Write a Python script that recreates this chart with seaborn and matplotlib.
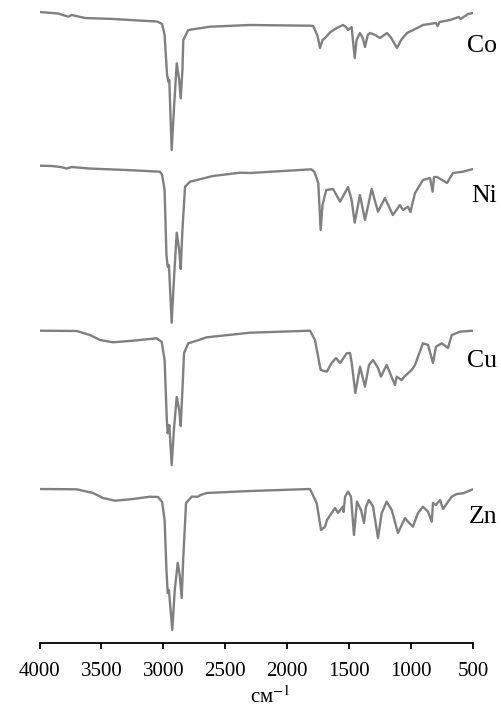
import matplotlib
matplotlib.use("Agg")
import matplotlib.pyplot as plt
import seaborn as sns
import pandas as pd

# IR spectra of the four metal complexes (wavenumber, cm^-1 / relative transmittance, a.u.)
co_wn = [4000, 3850, 3767, 3740, 3633, 3400, 3200, 3050, 3010, 2990, 2970, 2960, 2952, 2933,
         2915, 2892, 2872, 2860, 2846, 2839, 2799, 2623, 2300, 1816, 1790, 1755, 1735, 1715,
         1695, 1650, 1600, 1550, 1525, 1509, 1480, 1455, 1440, 1413, 1390, 1372, 1350, 1332,
         1290, 1251, 1194, 1160, 1114, 1080, 1033, 950, 904, 800, 785, 770, 686, 615, 600,
         540, 500]
co_t = [148, 146.5, 143.3, 145, 142, 141, 139.5, 138.5, 136, 125, 85, 78.3, 80, 10,
        50, 96.7, 80, 61.7, 90, 120, 130, 133.3, 135, 134.3, 134, 124, 112, 120,
        122, 128, 132, 135, 133, 130, 133, 102, 120, 127, 122, 113, 125, 127,
        125, 122, 127, 122, 112, 120, 127, 132, 135, 137, 134, 138, 140, 143, 141,
        146, 147]

ni_wn = [4000, 3900, 3830, 3780, 3740, 3600, 3300, 3027, 3010, 2990, 2975, 2965, 2955, 2933,
         2915, 2892, 2872, 2860, 2846, 2825, 2785, 2600, 2381, 2300, 1805, 1780, 1749, 1730,
         1715, 1685, 1630, 1573, 1509, 1480, 1455, 1413, 1372, 1318, 1267, 1211, 1147, 1090,
         1065, 1025, 1005, 990, 968, 904, 847, 826, 815, 790, 710, 662, 581, 500]
ni_t = [154.3, 154, 153, 151.5, 153, 151.5, 150, 148.3, 145, 130, 65, 53.3, 55, -2.7,
        40, 87.3, 70, 51, 90, 133.3, 138.3, 144, 147.3, 147, 150.7, 148, 136.7, 90,
        115, 130, 131, 118.3, 133, 120, 97.3, 125, 100, 131, 108.3, 122, 105, 115,
        110, 113.3, 108, 116, 127, 140, 142, 128.3, 143, 143, 137, 147, 148.3, 151]

cu_wn = [4000, 3700, 3592, 3512, 3407, 3245, 3054, 3013, 2990, 2972, 2965, 2952, 2933, 2915,
         2892, 2872, 2860, 2846, 2833, 2799, 2731, 2650, 2300, 1816, 1776, 1730, 1681, 1641,
         1606, 1573, 1520, 1493, 1479, 1450, 1412, 1372, 1340, 1307, 1267, 1243, 1225, 1197,
         1170, 1130, 1116, 1076, 1050, 995, 968, 944, 904, 863, 823, 799, 753, 702, 672,
         605, 500]
cu_t = [149.3, 149, 145, 140, 137.7, 139.3, 141.7, 138, 120, 60, 46.7, 55, 15, 50,
        83, 70, 54, 90, 127, 136.7, 139.3, 142.7, 147.3, 149.3, 140, 110, 108.3, 117,
        122, 117, 126.7, 127, 117, 87, 113.3, 93.3, 115, 120, 112, 103.3, 108, 115,
        107, 95, 103.3, 100, 104, 110, 115, 123.3, 136.7, 135, 117, 133.3, 136.7, 132, 145,
        148.3, 149.3]

zn_wn = [4000, 3700, 3568, 3487, 3390, 3245, 3108, 3043, 3010, 2990, 2975, 2965, 2955, 2928,
         2908, 2884, 2868, 2852, 2840, 2817, 2771, 2720, 2700, 2650, 2300, 1816, 1762, 1727,
         1695, 1679, 1641, 1614, 1590, 1552, 1545, 1533, 1509, 1485, 1461, 1437, 1404, 1380,
         1364, 1340, 1307, 1267, 1237, 1197, 1156, 1106, 1049, 1030, 985, 944, 904, 863,
         833, 823, 800, 766, 742, 720, 672, 632, 581, 500]
zn_t = [151, 150.7, 147, 142, 139.3, 141, 143.3, 143, 138, 120, 70, 47, 50, 10,
        50, 77, 65, 42, 80, 137, 143.3, 143.3, 145, 147, 149, 151, 137, 110,
        113.3, 120, 127, 132, 127, 133.3, 128, 143.3, 148.3, 143.3, 105, 138.3, 130, 117,
        133.3, 140, 133.3, 102, 127, 138.3, 130, 107, 122, 119, 113.3, 127, 133.3, 128.3,
        118.3, 137, 135, 140, 131, 135, 143.3, 146, 146.7, 150.7]

samples = ["Co", "Ni", "Cu", "Zn"]
stack_offsets = [0, -160, -320, -480]
tick_values = [4000, 3500, 3000, 2500, 2000, 1500, 1000, 500]

spectra = [(co_wn, co_t), (ni_wn, ni_t), (cu_wn, cu_t), (zn_wn, zn_t)]
frames = []
for name, (wn, t), off in zip(samples, spectra, stack_offsets):
    frames.append(pd.DataFrame({"wn": wn, "y": [v + off for v in t], "sample": name}))
df = pd.concat(frames, ignore_index=True)

sns.set_theme(style="ticks")
plt.rcParams["font.family"] = ["Liberation Serif", "DejaVu Serif"]
plt.rcParams["mathtext.fontset"] = "stix"

fig = plt.figure(figsize=(5.01, 7.10), dpi=100)
ax = fig.add_axes([39.5 / 501, 67 / 710, 433.5 / 501, 643 / 710])

sns.lineplot(data=df, x="wn", y="y", hue="sample", units="sample", estimator=None,
             palette=["#808080"] * 4, linewidth=1.7, legend=False, ax=ax)

ax.set_xlim(4000, 500)
ax.set_ylim(-483, 160)
ax.set_xticks(tick_values)
ax.set_xticklabels([str(v) for v in tick_values])
ax.set_yticks([])
ax.set_ylabel("")
sns.despine(ax=ax, left=True, top=True, right=True)
ax.spines["bottom"].set_linewidth(1.3)
ax.spines["bottom"].set_color("black")
ax.tick_params(axis="x", direction="out", length=4, width=1.3, pad=9.5,
               labelsize=15, colors="black")

label_pos = [(551, 113.5), (510, -36), (551, -201), (538, -357)]
for name, (lx, ly) in zip(samples, label_pos):
    ax.text(lx, ly, name, ha="left", va="center", fontsize=18.5, color="black",
            clip_on=False)

ax.set_xlabel("см$^{-1}$", fontsize=15, color="black")
ax.xaxis.set_label_coords(0.532, -0.068)

fig.savefig("out.png", dpi=100)
